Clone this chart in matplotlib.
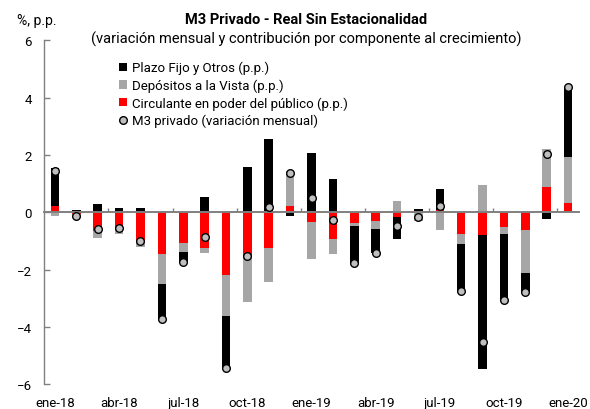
import matplotlib
matplotlib.use("Agg")
import matplotlib.pyplot as plt
from matplotlib.lines import Line2D
from matplotlib.patches import Patch
import numpy as np

plt.rcParams['font.family'] = ['Roboto', 'DejaVu Sans']

months = ['ene-18', 'feb-18', 'mar-18', 'abr-18', 'may-18', 'jun-18', 'jul-18', 'ago-18',
          'sep-18', 'oct-18', 'nov-18', 'dic-18', 'ene-19', 'feb-19', 'mar-19', 'abr-19',
          'may-19', 'jun-19', 'jul-19', 'ago-19', 'sep-19', 'oct-19', 'nov-19', 'dic-19', 'ene-20']

circulante = [0.21, -0.05, -0.66, -0.63, -1.05, -1.45, -1.06, -1.23, -2.18, -1.52, -1.23, 0.23, -0.33,
              -0.92, -0.36, -0.30, -0.17, 0.06, 0.10, -0.74, -0.79, -0.50, -0.61, 0.90, 0.34]
depositos = [-0.14, -0.12, -0.24, -0.11, -0.17, -1.04, -0.33, -0.17, -1.45, -1.62, -1.19, 1.23, -1.28,
             -0.52, -0.12, -0.28, 0.41, -0.30, -0.63, -0.36, 0.94, -0.26, -1.51, 1.30, 1.61]
plazo_fijo = [1.35, 0.10, 0.28, 0.16, 0.16, -1.23, -0.33, 0.53, -1.80, 1.60, 2.56, -0.13, 2.08,
              1.15, -1.28, -0.83, -0.75, 0.06, 0.73, -1.63, -4.67, -2.28, -0.65, -0.22, 2.44]
m3 = [1.46, -0.12, -0.59, -0.56, -1.01, -3.72, -1.72, -0.85, -5.43, -1.52, 0.18, 1.37, 0.50,
      -0.26, -1.76, -1.41, -0.47, -0.16, 0.22, -2.73, -4.52, -3.04, -2.77, 2.03, 4.39]

series = [
    ('Circulante en poder del público (p.p.)', circulante, '#ff0000'),
    ('Depósitos a la Vista (p.p.)', depositos, '#a6a6a6'),
    ('Plazo Fijo y Otros (p.p.)', plazo_fijo, '#000000'),
]

fig = plt.figure(figsize=(5.9, 4.1), dpi=100)
ax = fig.add_axes([0.075, 0.06, 0.906, 0.839])

x = np.arange(len(months))
pos_bottom = np.zeros(len(months))
neg_bottom = np.zeros(len(months))
handles = {}
for name, vals, color in series:
    v = np.array(vals)
    bottoms = np.where(v >= 0, pos_bottom, neg_bottom)
    ax.bar(x, v, 0.4, bottom=bottoms, color=color, zorder=1, linewidth=0)
    pos_bottom = pos_bottom + np.where(v >= 0, v, 0)
    neg_bottom = neg_bottom + np.where(v < 0, v, 0)
    handles[name] = Patch(facecolor=color, edgecolor='none')

ax.plot(x, m3, linestyle='none', marker='o', markersize=5.5, markerfacecolor='#bfbfbf',
        markeredgecolor='#000000', markeredgewidth=1.0, zorder=4)

ax.set_xlim(-0.5, len(months) - 0.5)
ax.set_ylim(-6, 6)
ax.set_yticks([-6, -4, -2, 0, 2, 4, 6])
ax.tick_params(axis='y', direction='in', length=4, width=1, color='#808080', labelsize=9.5, pad=9)

for s in ['top', 'right']:
    ax.spines[s].set_visible(False)
ax.spines['left'].set_color('#808080')
ax.spines['left'].set_linewidth(1.0)
ax.spines['bottom'].set_position(('data', 0))
ax.spines['bottom'].set_color('#808080')
ax.spines['bottom'].set_linewidth(1.4)
ax.spines['bottom'].set_zorder(3)
ax.set_xticks(np.arange(2.5, len(months) - 0.5, 3))
ax.tick_params(axis='x', direction='in', length=3, width=1, color='#808080', labelbottom=False)

sec = ax.secondary_xaxis('bottom')
sec.set_xticks(x[::3], [months[i] for i in x[::3]])
sec.tick_params(axis='x', length=0, labelsize=9.5, pad=8)
sec.spines['bottom'].set_visible(False)

leg_handles = [handles['Plazo Fijo y Otros (p.p.)'], handles['Depósitos a la Vista (p.p.)'],
               handles['Circulante en poder del público (p.p.)'],
               Line2D([], [], linestyle='none', marker='o', markersize=5.5, markerfacecolor='#bfbfbf',
                      markeredgecolor='#000000', markeredgewidth=1.0)]
leg_labels = ['Plazo Fijo y Otros (p.p.)', 'Depósitos a la Vista (p.p.)',
              'Circulante en poder del público (p.p.)', 'M3 privado (variación mensual)']
ax.legend(leg_handles, leg_labels, loc='upper left', bbox_to_anchor=(119 / 590, 1 - 62 / 410),
          bbox_transform=fig.transFigure, frameon=False, fontsize=9.5, handlelength=0.6,
          handleheight=0.6, handletextpad=0.35, labelspacing=0.32, borderpad=0, borderaxespad=0)

fig.text(306 / 590, 1 - 20 / 410, 'M3 Privado - Real Sin Estacionalidad', ha='center', va='center',
         fontsize=10.5, fontweight='bold')
fig.text(306 / 590, 1 - 39 / 410, '(variación mensual y contribución por componente al crecimiento)',
         ha='center', va='center', fontsize=10.5)
fig.text(17 / 590, 1 - 21 / 410, '%, p.p.', ha='left', va='center', fontsize=10)

fig.savefig('out.png', dpi=100)
